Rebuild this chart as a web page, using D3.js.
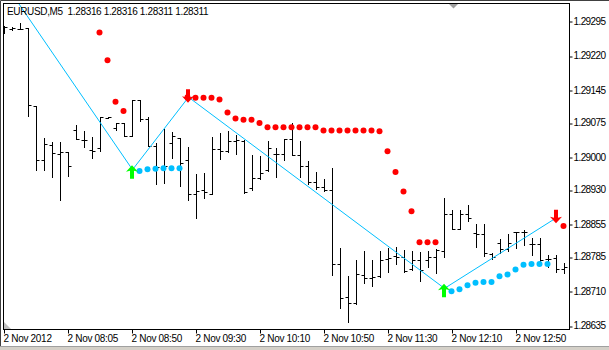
<!DOCTYPE html>
<html>
<head>
<meta charset="utf-8">
<script src="https://cdn.jsdelivr.net/npm/d3@7/dist/d3.min.js"></script>
<style>
  body { margin: 0; background: #fff; }
  svg { display: block; }
  text { font-family: "Liberation Sans", Arial, sans-serif; fill: #000; }
</style>
</head>
<body>
<svg width="609" height="350"></svg>
<script>
// EURUSD M5 bars, left to right (index 0 = first bar on screen)
const opens = [
  1.29271, 1.29278, 1.29277, 1.29279, 1.29111, 1.28993, 1.29026, 1.29008, 1.29012, 1.29060,
  1.29037, 1.29015, 1.29019, 1.29085, 1.29064, 1.29074, 1.29047, 1.29125, 1.29082, 1.29024,
  1.28979, 1.29030, 1.29041, 1.28993, 1.28920, 1.28928, 1.28921, 1.29017, 1.29013, 1.29035,
  1.29035, 1.28933, 1.28956, 1.28972, 1.29007, 1.29007, 1.29039, 1.29004, 1.28981, 1.28947,
  1.28935, 1.28929, 1.28769, 1.28697, 1.28684, 1.28745, 1.28738, 1.28743, 1.28780, 1.28786,
  1.28784, 1.28758, 1.28777, 1.28777, 1.28783, 1.28796, 1.28877, 1.28844, 1.28877, 1.28836,
  1.28834, 1.28790, 1.28814, 1.28801, 1.28837, 1.28837, 1.28812, 1.28812, 1.28779, 1.28781,
  1.28758
];
const highs = [
  1.29284, 1.29282, 1.29291, 1.29279, 1.29111, 1.29042, 1.29033, 1.29033, 1.29012, 1.29069,
  1.29057, 1.29044, 1.29087, 1.29088, 1.29075, 1.29075, 1.29125, 1.29125, 1.29087, 1.29031,
  1.29061, 1.29054, 1.29041, 1.29022, 1.28963, 1.28965, 1.29043, 1.29052, 1.29057, 1.29048,
  1.29037, 1.29005, 1.29002, 1.29035, 1.29019, 1.29040, 1.29074, 1.29035, 1.28992, 1.28967,
  1.28953, 1.28976, 1.28803, 1.28743, 1.28777, 1.28797, 1.28777, 1.28797, 1.28803, 1.28806,
  1.28799, 1.28796, 1.28794, 1.28797, 1.28802, 1.28911, 1.28886, 1.28886, 1.28896, 1.28855,
  1.28855, 1.28793, 1.28823, 1.28834, 1.28839, 1.28842, 1.28824, 1.28824, 1.28788, 1.28788,
  1.28770
];
const lows = [
  1.29269, 1.29275, 1.29277, 1.29089, 1.28972, 1.28973, 1.28958, 1.28907, 1.28960, 1.29039,
  1.29022, 1.28999, 1.29013, 1.29084, 1.29059, 1.29047, 1.29047, 1.29078, 1.29024, 1.28943,
  1.28945, 1.28999, 1.28938, 1.28908, 1.28868, 1.28911, 1.28920, 1.28997, 1.29011, 1.29007,
  1.28922, 1.28929, 1.28952, 1.28971, 1.28958, 1.28993, 1.29004, 1.28958, 1.28942, 1.28931,
  1.28927, 1.28745, 1.28674, 1.28644, 1.28682, 1.28727, 1.28722, 1.28740, 1.28752, 1.28769,
  1.28752, 1.28755, 1.28733, 1.28763, 1.28749, 1.28785, 1.28844, 1.28844, 1.28862, 1.28806,
  1.28786, 1.28780, 1.28793, 1.28797, 1.28803, 1.28810, 1.28788, 1.28774, 1.28763, 1.28752,
  1.28750
];
const closes = [
  1.29282, 1.29279, 1.29278, 1.29114, 1.28993, 1.29028, 1.29010, 1.29011, 1.28981, 1.29039,
  1.29037, 1.29013, 1.29087, 1.29087, 1.29074, 1.29047, 1.29125, 1.29082, 1.29024, 1.28979,
  1.28980, 1.29045, 1.28987, 1.28920, 1.28927, 1.28925, 1.29017, 1.29013, 1.29035, 1.29037,
  1.28925, 1.28955, 1.28965, 1.29019, 1.29008, 1.29039, 1.29004, 1.28981, 1.28947, 1.28936,
  1.28930, 1.28769, 1.28695, 1.28684, 1.28747, 1.28738, 1.28741, 1.28777, 1.28781, 1.28784,
  1.28754, 1.28777, 1.28756, 1.28783, 1.28799, 1.28877, 1.28844, 1.28877, 1.28868, 1.28834,
  1.28793, 1.28784, 1.28801, 1.28814, 1.28837, 1.28838, 1.28812, 1.28777, 1.28779, 1.28758,
  1.28763
];

// trailing stop dots above price (red) and below price (blue)
const redIndex = [12, 13, 14, 15, 23, 24, 25, 26, 27, 28, 29, 30, 31, 32, 33, 34, 35, 36, 37, 38,
  39, 40, 41, 42, 43, 44, 45, 46, 47, 48, 49, 50, 51, 52, 53, 54, 70];
const redValues = [1.29270, 1.29210, 1.29120, 1.29100, 1.29130, 1.29129, 1.29129, 1.29129, 1.29125,
  1.29097, 1.29084, 1.29081, 1.29081, 1.29074, 1.29065, 1.29065, 1.29065, 1.29065, 1.29065, 1.29065,
  1.29065, 1.29058, 1.29058, 1.29058, 1.29058, 1.29058, 1.29058, 1.29058, 1.29056, 1.29013, 1.28968,
  1.28926, 1.28883, 1.28816, 1.28816, 1.28816, 1.28851];
const blueIndex = [17, 18, 19, 20, 21, 22, 56, 57, 58, 59, 60, 61, 62, 63, 64, 65, 66, 67, 68];
const blueValues = [1.28970, 1.28974, 1.28975, 1.28976, 1.28976, 1.28976, 1.28710, 1.28714, 1.28723,
  1.28728, 1.28730, 1.28730, 1.28742, 1.28746, 1.28757, 1.28767, 1.28769, 1.28769, 1.28769];

// zigzag swing points (first one lies left of the visible window)
const zigIndex = [-1, 16, 23, 55, 69];
const zigValues = [1.29403, 1.28973, 1.29130, 1.28716, 1.28869];
const upArrowIndex = [16, 55];
const upArrowValues = [1.28973, 1.28716];
const downArrowIndex = [23, 69];
const downArrowValues = [1.29130, 1.28869];

// axis ticks
const yTicks = [1.29295, 1.29220, 1.29145, 1.29075, 1.29000, 1.28930, 1.28855, 1.28785, 1.28710, 1.28635];
const xTickIndex = [0, 8, 16, 24, 32, 40, 48, 56, 64];
const xTickLabels = ["2 Nov 2012", "2 Nov 08:05", "2 Nov 08:50", "2 Nov 09:30", "2 Nov 10:10",
  "2 Nov 10:50", "2 Nov 11:30", "2 Nov 12:10", "2 Nov 12:50"];
const title = "EURUSD,M5  1.28316 1.28316 1.28311 1.28311";

// plot box inside the 609x350 window
const plot = { left: 3, top: 3, right: 569, bottom: 329 };

const svg = d3.select("svg");

const x = d3.scaleLinear().domain([0, 70]).range([4, 564]);
const y = d3.scaleLinear().domain([1.28628, 1.29334]).range([plot.bottom, plot.top]);
const px = i => Math.round(x(i)) + 0.5;
const py = v => Math.round(y(v)) + 0.5;

// window chrome
svg.append("rect").attr("x", 0).attr("y", 346).attr("width", 609).attr("height", 4).attr("fill", "#d4d0c8");
svg.append("line").attr("x1", 0).attr("x2", 609).attr("y1", 346.5).attr("y2", 346.5).attr("stroke", "#a0a0a0");
svg.append("path").attr("d", "M0.5,346V0.5H609").attr("fill", "none").attr("stroke", "#404040");

svg.append("clipPath").attr("id", "clip")
  .append("rect")
  .attr("x", plot.left + 1).attr("y", plot.top + 1)
  .attr("width", plot.right - plot.left - 1).attr("height", plot.bottom - plot.top - 1);

const inner = svg.append("g").attr("clip-path", "url(#clip)");

// OHLC bars
const bars = opens.map((o, i) => ({ i, o, h: highs[i], l: lows[i], c: closes[i] }));
inner.append("g")
  .selectAll("path")
  .data(bars)
  .join("path")
  .attr("fill", "none")
  .attr("stroke", "#000")
  .attr("stroke-width", 1)
  .attr("d", d => {
    const cx = px(d.i);
    return `M${cx},${py(d.h) - 0.5}V${py(d.l) + 0.5}` +
      `M${cx - 3},${py(d.o)}H${cx}` +
      `M${cx},${py(d.c)}H${cx + 3}`;
  });

// zigzag
const zig = zigIndex.map((i, k) => ({ i, v: zigValues[k] }));
inner.append("path")
  .datum(zig)
  .attr("fill", "none")
  .attr("stroke", "#00bfff")
  .attr("stroke-width", 1)
  .attr("d", d3.line().x(d => x(d.i) + 0.5).y(d => y(d.v)));

// dots
inner.append("g")
  .selectAll("circle")
  .data(redIndex.map((i, k) => ({ i, v: redValues[k] })))
  .join("circle")
  .attr("cx", d => x(d.i) - 0.5)
  .attr("cy", d => y(d.v))
  .attr("r", 3)
  .attr("fill", "#ff0000");

inner.append("g")
  .selectAll("circle")
  .data(blueIndex.map((i, k) => ({ i, v: blueValues[k] })))
  .join("circle")
  .attr("cx", d => x(d.i) - 0.5)
  .attr("cy", d => y(d.v))
  .attr("r", 3)
  .attr("fill", "#00bfff");

// arrows (tip near the swing point)
const upShape = "M0,-4.5L6,2L2,1V9H-2V1L-6,2Z";
const downShape = "M0,5.5L6,-1L2,0V-8H-2V0L-6,-1Z";

inner.append("g")
  .selectAll("path")
  .data(upArrowIndex.map((i, k) => ({ i, v: upArrowValues[k] })))
  .join("path")
  .attr("transform", d => `translate(${x(d.i)},${y(d.v)})`)
  .attr("d", upShape)
  .attr("fill", "#00ff00");

inner.append("g")
  .selectAll("path")
  .data(downArrowIndex.map((i, k) => ({ i, v: downArrowValues[k] })))
  .join("path")
  .attr("transform", d => `translate(${x(d.i)},${y(d.v)})`)
  .attr("d", downShape)
  .attr("fill", "#ff0000");

// chart shift markers
svg.append("path").attr("d", "M449,4H458L453.5,8.5Z").attr("fill", "#a0a0a0");
svg.append("path").attr("d", "M4,322V329H11Z").attr("fill", "#c0c0c0");

// frame
svg.append("rect")
  .attr("x", plot.left + 0.5).attr("y", plot.top + 0.5)
  .attr("width", plot.right - plot.left).attr("height", plot.bottom - plot.top)
  .attr("fill", "none").attr("stroke", "#000");

// right price axis
const yAxis = svg.append("g")
  .attr("transform", `translate(${plot.right + 0.5},0)`)
  .call(d3.axisRight(y).tickValues(yTicks).tickSize(3).tickPadding(1).tickFormat(d3.format(".5f")));
yAxis.select(".domain").remove();
yAxis.selectAll("line").attr("transform", d => `translate(0,${py(d) - y(d)})`).attr("stroke", "#000");
yAxis.selectAll("text").style("font-size", "10px").style("letter-spacing", "-0.6px");

// bottom time axis
const xAxis = svg.append("g")
  .attr("transform", `translate(0,${plot.bottom + 0.5})`)
  .call(d3.axisBottom(x).tickValues(xTickIndex).tickSize(4).tickPadding(1)
    .tickFormat((d, k) => xTickLabels[k]));
xAxis.select(".domain").remove();
xAxis.selectAll(".tick").attr("transform", d => `translate(${px(d)},0)`);
xAxis.selectAll("text")
  .attr("text-anchor", "start")
  .attr("x", -1)
  .style("font-size", "10px")
  .style("letter-spacing", "-0.3px");

// title
svg.append("text")
  .attr("x", 7)
  .attr("y", 15)
  .style("font-size", "10px")
  .style("letter-spacing", "-0.35px")
  .style("white-space", "pre")
  .text(title);
</script>
</body>
</html>
